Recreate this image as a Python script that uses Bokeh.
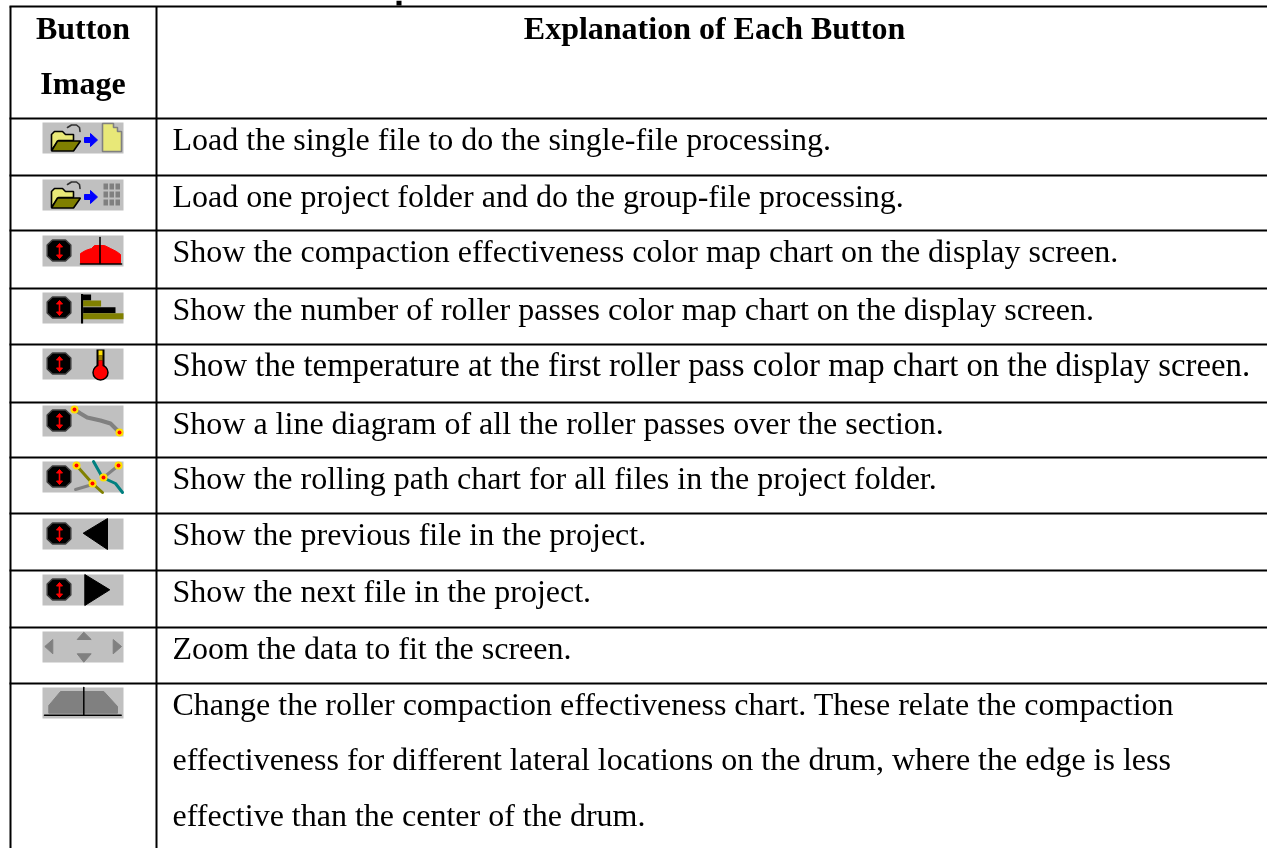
from bokeh.plotting import figure
from bokeh.models import ColumnDataSource, Range1d
from bokeh.core.properties import value
from bokeh.embed import file_html
from bokeh.resources import INLINE

W, H = 1267, 848
FONT = "Liberation Serif"

# ---- table content ----
header_left = ["Button", "Image"]
header_right = "Explanation of Each Button"
row_lines = [
    ["Load the single file to do the single-file processing."],
    ["Load one project folder and do the group-file processing."],
    ["Show the compaction effectiveness color map chart on the display screen."],
    ["Show the number of roller passes color map chart on the display screen."],
    ["Show the temperature at the first roller pass color map chart on the display screen."],
    ["Show a line diagram of all the roller passes over the section."],
    ["Show the rolling path chart for all files in the project folder."],
    ["Show the previous file in the project."],
    ["Show the next file in the project."],
    ["Zoom the data to fit the screen."],
    ["Change the roller compaction effectiveness chart. These relate the compaction",
     "effectiveness for different lateral locations on the drum, where the edge is less",
     "effective than the center of the drum."],
]

# ---- table layout ----
rule_ys = [6, 118, 175, 230, 288, 344, 402, 457, 513, 570, 627, 683]
col_xs = [10, 156]
icon_tops = [122, 179, 235, 292, 348, 405, 461, 518, 574, 631, 687]
text_x = 172
line_step = 55.4
baseline_shift = -9.5
row_font_px = ["32px", "32px", "32px", "32px", "32.75px", "32px", "32px", "32px", "32px", "32px", "32px"]

p = figure(width=W, height=H, output_backend="svg", toolbar_location=None,
           x_range=Range1d(0, W), y_range=Range1d(H, 0),
           min_border=0, outline_line_color=None, background_fill_color="white",
           border_fill_color="white", x_axis_type=None, y_axis_type=None)
p.grid.visible = False
p.styles = {"position": "fixed", "left": "0px", "top": "0px"}


def T(xs, ys, ox, oy):
    return [x + ox for x in xs], [y + oy for y in ys]


def poly(ox, oy, xs, ys, color, line=None, lw=1):
    X, Y = T(xs, ys, ox, oy)
    p.patch(X, Y, fill_color=color, line_color=line if line else color, line_width=lw)


def path(ox, oy, xs, ys, color, lw):
    X, Y = T(xs, ys, ox, oy)
    p.line(X, Y, line_color=color, line_width=lw, line_join="round", line_cap="round")


def rect(ox, oy, x0, x1, y0, y1, color):
    p.quad(left=[x0 + ox], right=[x1 + ox], top=[y0 + oy], bottom=[y1 + oy],
           fill_color=color, line_color=None)


GREY, DARK, OLIVE, YEL, BLUE, RED = "#c0c0c0", "#808080", "#808000", "#e8e878", "#0000ff", "#ff0000"
TEAL = "#008080"
OCT_X = [10, 23, 28.3, 28.3, 23, 10, 4.7, 4.7]
OCT_Y = [4.5, 4.5, 9.5, 20.5, 25.5, 25.5, 20.5, 9.5]


def stop(ox, oy):
    poly(ox, oy, OCT_X, OCT_Y, "#000000", "#404040", 1.5)
    path(ox, oy, [17, 17], [9, 22], RED, 1.6)
    poly(ox, oy, [14, 17, 20], [11.5, 8, 11.5], RED)
    poly(ox, oy, [14, 17, 20], [19.5, 23, 19.5], RED)


def dot(ox, oy, x, y):
    p.circle([x + ox], [y + oy], radius=4, fill_color="#ffe000", line_color=None)
    p.circle([x + ox], [y + oy], radius=2, fill_color=RED, line_color=None)


def folder(ox, oy, dy=0):
    poly(ox, oy + dy, [9, 9, 12, 20, 23, 31, 31, 16, 9], [28, 12, 9, 9, 12, 12, 18, 18, 28], YEL, "#000000", 1.6)
    poly(ox, oy + dy, [9, 15, 38, 31], [28.5, 18.5, 18.5, 28.5], OLIVE, "#000000", 1.6)


def arrow_over(ox, oy, dy=0):
    path(ox, oy + dy, [25, 29, 34, 37, 37.5], [5, 2.5, 2.5, 5, 9], "#303030", 1.6)


def blue_arrow(ox, oy):
    poly(ox, oy, [42, 48, 48, 55, 48, 48, 42], [15, 15, 11, 17.5, 24, 20, 20], BLUE)


def icon0(ox, oy):
    folder(ox, oy)
    arrow_over(ox, oy)
    blue_arrow(ox, oy)
    poly(ox, oy, [60, 71, 71, 75, 75, 79, 79, 60], [1, 1, 5, 5, 9, 9, 29, 29], YEL, DARK, 1.6)


def icon1(ox, oy):
    folder(ox, oy)
    arrow_over(ox, oy)
    blue_arrow(ox, oy)
    for sx in [61, 67, 73]:
        for sy in [4, 12, 20]:
            rect(ox, oy, sx, sx + 4.5, sy, sy + 6, DARK)


def icon2(ox, oy):
    stop(ox, oy)
    poly(ox, oy, [38, 38, 43, 49, 52, 62, 68, 74, 78, 78],
         [28, 18, 15, 13, 10, 10, 13, 16, 19, 28], RED)
    path(ox, oy, [57.5, 57.5], [2, 28], "#000000", 1.6)
    path(ox, oy, [38, 79], [28.5, 28.5], "#000000", 1.6)


def icon3(ox, oy):
    stop(ox, oy)
    rect(ox, oy, 39, 48.6, 2, 8, "#000000")
    rect(ox, oy, 40.6, 58.6, 8, 14, OLIVE)
    rect(ox, oy, 40.6, 73, 14.7, 20.7, "#000000")
    rect(ox, oy, 40.6, 81, 20.7, 26.7, OLIVE)
    rect(ox, oy, 38.5, 40.6, 1.5, 31, "#000000")


def icon4(ox, oy):
    stop(ox, oy)
    rect(ox, oy, 54, 62, 1, 20, "#000000")
    p.circle([58 + ox], [24 + oy], radius=7.5, fill_color=RED, line_color="#000000", line_width=1.5)
    rect(ox, oy, 56, 60, 2, 7, "#ffe000")
    rect(ox, oy, 56, 60, 7, 12, "#a08000")
    rect(ox, oy, 56, 60, 12, 24, RED)


def icon5(ox, oy):
    stop(ox, oy)
    path(ox, oy, [32, 38, 44.7, 58, 68, 77], [4, 8, 12, 15, 18, 27], DARK, 4)
    dot(ox, oy, 32, 4)
    dot(ox, oy, 77, 27)


def icon6(ox, oy):
    stop(ox, oy)
    path(ox, oy, [33, 50], [28, 23], DARK, 3)
    path(ox, oy, [61, 76], [16, 4], DARK, 3)
    path(ox, oy, [34, 50, 60], [4, 22, 31], OLIVE, 3)
    path(ox, oy, [51, 60, 73, 80], [0, 16, 22, 31], TEAL, 3)
    for dx, dy in [(34, 4), (50, 22), (61, 16), (76, 4)]:
        dot(ox, oy, dx, dy)


def icon7(ox, oy):
    stop(ox, oy)
    poly(ox, oy, [40.7, 65, 65], [14.7, 0, 31], "#000000")


def icon8(ox, oy):
    stop(ox, oy)
    poly(ox, oy, [42.3, 42.3, 67.3], [0, 31, 15.3], "#000000")


def icon9(ox, oy):
    poly(ox, oy, [41.3, 34.7, 48.7], [0.7, 8, 8], DARK)
    poly(ox, oy, [41.3, 34.7, 48.7], [30.7, 22.3, 22.3], DARK)
    poly(ox, oy, [2.3, 10.3, 10.3], [15, 8, 22.3], DARK)
    poly(ox, oy, [79, 70.7, 70.7], [15, 8, 22.3], DARK)


def icon10(ox, oy):
    poly(ox, oy, [6.3, 6.3, 18, 61.3, 75, 75], [25.7, 18, 4, 4, 19, 25.7], DARK)
    path(ox, oy, [2, 78.7], [27.7, 27.7], "#000000", 1.5)
    path(ox, oy, [41.3, 41.3], [0, 27.7], "#000000", 1.5)


icons = [icon0, icon1, icon2, icon3, icon4, icon5, icon6, icon7, icon8, icon9, icon10]
for top, draw in zip(icon_tops, icons):
    rect(42, top, 0, 81, 0, 31, GREY)
    draw(42, top)

# table rules
for y in rule_ys:
    p.line([col_xs[0] - 1, W], [y, y], line_color="#000000", line_width=2)
for x in col_xs:
    p.line([x, x], [rule_ys[0], H], line_color="#000000", line_width=2)

# fragment of the descender left by the caption that the crop cuts away
p.quad(left=[396], right=[401], top=[0], bottom=[5], fill_color="#000000", line_color=None)

# texts
for i, lines in enumerate(row_lines):
    xs, ys, ts = [], [], []
    for j, t in enumerate(lines):
        xs.append(text_x)
        ys.append(rule_ys[i + 1] + 29.7 + baseline_shift + j * line_step)
        ts.append(t)
    p.text(x="x", y="y", text="t", source=ColumnDataSource(dict(x=xs, y=ys, t=ts)),
           text_font=value(FONT), text_font_size=row_font_px[i], text_color="#000000",
           text_baseline="alphabetic", text_align="left")

p.text(x=[82.5, 82.5], y=[37 + baseline_shift, 92 + baseline_shift], text=header_left,
       text_font=value(FONT), text_font_style="bold",
       text_font_size="32px", text_align="center", text_baseline="alphabetic", text_color="#000000")
p.text(x=[714], y=[37 + baseline_shift], text=[header_right], text_font=value(FONT), text_font_style="bold",
       text_font_size="32px", text_align="center", text_baseline="alphabetic", text_color="#000000")

open("out.html", "w").write(file_html(p, INLINE))
